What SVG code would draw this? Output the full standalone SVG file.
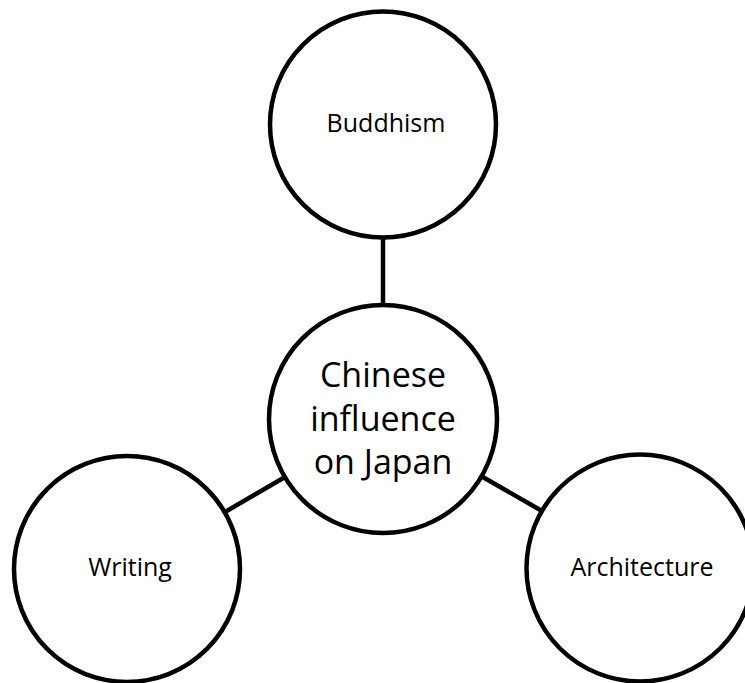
<svg xmlns="http://www.w3.org/2000/svg" width="745" height="683" viewBox="0 0 745 683">
  <style>
    .node circle { fill: #ffffff; stroke: #000000; stroke-width: 4.5; }
    .conn line { stroke: #000000; stroke-width: 4.5; }
    text { font-family: "Open Sans", "Noto Sans", sans-serif; fill: #000000; text-anchor: middle; }
    .small { font-size: 25px; }
    .big { font-size: 34px; }
  </style>
  <rect x="0" y="0" width="745" height="683" fill="#ffffff"/>
  <g id="connectors" class="conn">
    <line x1="383" y1="236" x2="383" y2="306"/>
    <line x1="225" y1="512" x2="285" y2="477"/>
    <line x1="481" y1="476" x2="542" y2="511"/>
  </g>
  <g id="node-buddhism" class="node">
    <circle cx="383" cy="124.5" r="113"/>
    <text class="small" x="386" y="132">Buddhism</text>
  </g>
  <g id="node-center" class="node">
    <circle cx="383" cy="419" r="114"/>
    <text class="big" x="383" y="387">Chinese</text>
    <text class="big" x="383" y="431">influence</text>
    <text class="big" x="383" y="474">on Japan</text>
  </g>
  <g id="node-writing" class="node">
    <circle cx="127" cy="569" r="113"/>
    <text class="small" x="130" y="576">Writing</text>
  </g>
  <g id="node-architecture" class="node">
    <circle cx="640" cy="568" r="113.5"/>
    <text class="small" x="642" y="576">Architecture</text>
  </g>
</svg>
